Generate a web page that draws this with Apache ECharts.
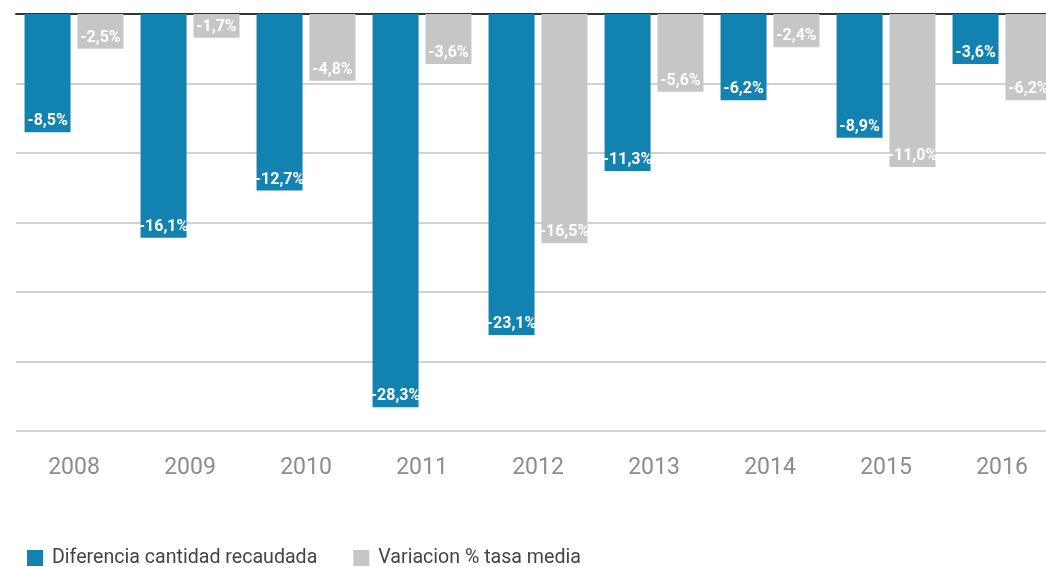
<!DOCTYPE html>
<html>
<head>
<meta charset="utf-8">
<script src="https://cdn.jsdelivr.net/npm/echarts@6/dist/echarts.min.js"></script>
<style>
    html, body { margin: 0; padding: 0; background: #fff; overflow: hidden; }
    /* el gráfico sigue un poco más allá del borde derecho */
    #main { width: 1060px; height: 567px; }
</style>
</head>
<body>
<div id="main"></div>
<script type="text/javascript">
    // datos del gráfico
    var years = ['2008', '2009', '2010', '2011', '2012', '2013', '2014', '2015', '2016'];
    var recaudada = [-8.5, -16.1, -12.7, -28.3, -23.1, -11.3, -6.2, -8.9, -3.6];
    var tasaMedia = [-2.5, -1.7, -4.8, -3.6, -16.5, -5.6, -2.4, -11.0, -6.2];
    var nombres = ['Diferencia cantidad recaudada', 'Variacion % tasa media'];

    var myChart = echarts.init(document.getElementById('main'));

    function etiqueta(p) {
        return p.value.toFixed(1).replace('.', ',') + '%';
    }

    var labelStyle = {
        show: true,
        position: 'insideBottom',
        distance: 3,
        color: '#fff',
        fontFamily: 'Roboto',
        fontWeight: 'bold',
        fontSize: 16,
        formatter: etiqueta
    };

    myChart.setOption({
        animation: false,
        grid: { left: 16, top: 14, right: 0, height: 417 },
        legend: {
            left: 22,
            top: 543,
            itemWidth: 16,
            itemHeight: 16,
            itemGap: 36,
            icon: 'rect',
            textStyle: { color: '#444', fontSize: 19.6, fontFamily: 'Roboto', padding: [0, 0, 0, 4] },
            data: nombres
        },
        xAxis: [{
            type: 'category',
            data: years,
            position: 'bottom',
            axisLine: { show: false, onZero: false },
            axisTick: { show: false },
            axisLabel: { color: '#8c8c8c', fontSize: 23, fontFamily: 'Roboto', margin: 26 }
        }, {
            type: 'category',
            data: years,
            position: 'top',
            axisLine: { show: true, onZero: false, lineStyle: { color: '#333', width: 2 } },
            axisTick: { show: false },
            axisLabel: { show: false }
        }],
        yAxis: {
            type: 'value',
            min: -30,
            max: 0,
            interval: 5,
            axisLine: { show: false },
            axisTick: { show: false },
            axisLabel: { show: false },
            splitLine: { lineStyle: { color: '#d2d2d2', width: 2 } }
        },
        series: [{
            name: nombres[0],
            type: 'bar',
            data: recaudada,
            barWidth: 46,
            barGap: '15%',
            itemStyle: { color: '#1283b0' },
            label: labelStyle
        }, {
            name: nombres[1],
            type: 'bar',
            data: tasaMedia,
            barWidth: 46,
            itemStyle: { color: '#c6c6c6' },
            label: labelStyle
        }]
    });
</script>
</body>
</html>
